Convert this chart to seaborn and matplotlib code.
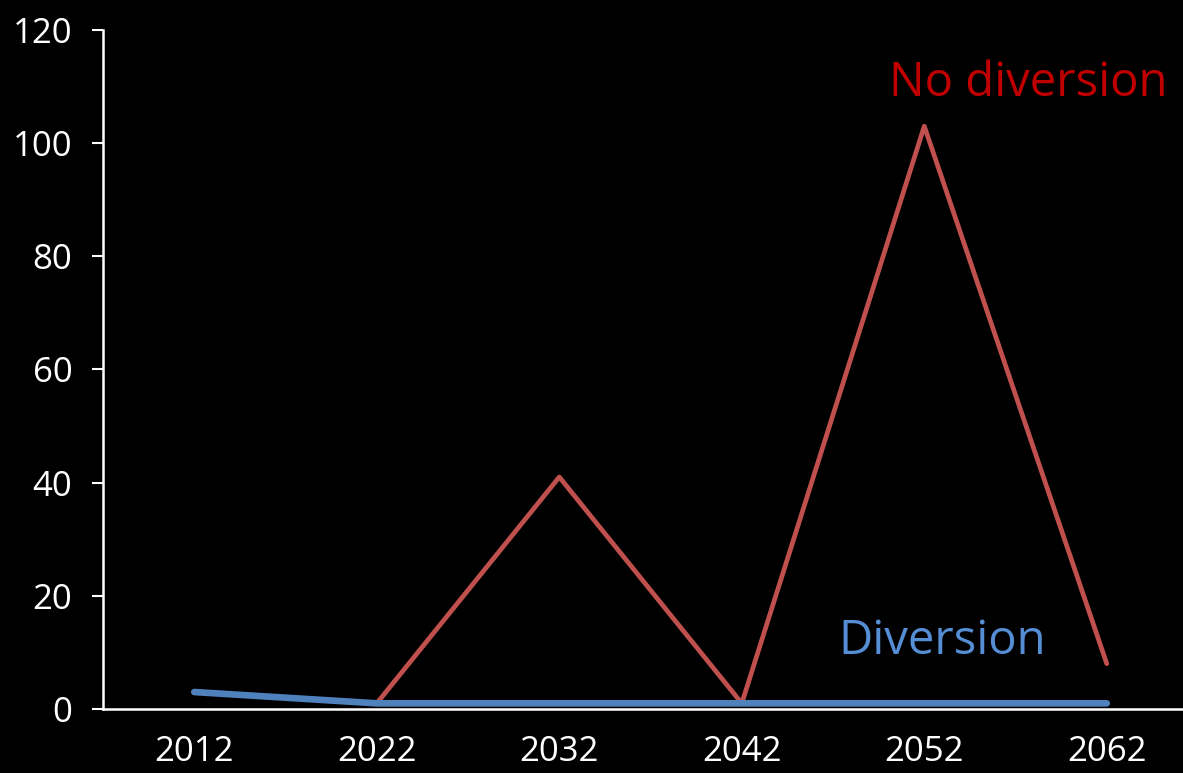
import matplotlib
matplotlib.use("Agg")
import matplotlib.pyplot as plt
import seaborn as sns
import pandas as pd

years = ["2012", "2022", "2032", "2042", "2052", "2062"]
no_diversion = [3, 1, 41, 1, 103, 8]
diversion = [3, 1, 1, 1, 1, 1]
y_ticks = [0, 20, 40, 60, 80, 100, 120]

sns.set_style("dark")
plt.rcParams["font.family"] = ["Open Sans", "DejaVu Sans"]

df = pd.DataFrame({"year": years, "No diversion": no_diversion, "Diversion": diversion})

fig = plt.figure(figsize=(11.83, 7.73), dpi=100, facecolor="black")
ax = fig.add_axes([0.0871, 0.0828, 0.9256, 0.8784])
ax.set_facecolor("black")

sns.lineplot(data=df, x="year", y="No diversion", ax=ax, color="#C0504D",
             linewidth=3.4, sort=False)
sns.lineplot(data=df, x="year", y="Diversion", ax=ax, color="#4F81BD",
             linewidth=4.8, sort=False, solid_capstyle="round")

ax.set_xlim(-0.5, 5.5)
ax.set_ylim(0, 120)
ax.set_yticks(y_ticks)
ax.set_xlabel("")
ax.set_ylabel("")
ax.grid(False)

for side in ["top", "right"]:
    ax.spines[side].set_visible(False)
for side in ["left", "bottom"]:
    ax.spines[side].set_visible(True)
    ax.spines[side].set_color("white")
    ax.spines[side].set_linewidth(1.8)

ax.tick_params(axis="y", colors="white", labelsize=25, length=8, width=1.5,
               direction="out", left=True, pad=14)
ax.tick_params(axis="x", colors="white", labelsize=25, length=0, pad=19)

ax.text(4.57, 110.5, "No diversion", color="#C00000", fontsize=34,
        ha="center", va="center")
ax.text(4.10, 12.0, "Diversion", color="#558ED5", fontsize=34,
        ha="center", va="center")

fig.savefig("out.png", dpi=100, facecolor="black")
